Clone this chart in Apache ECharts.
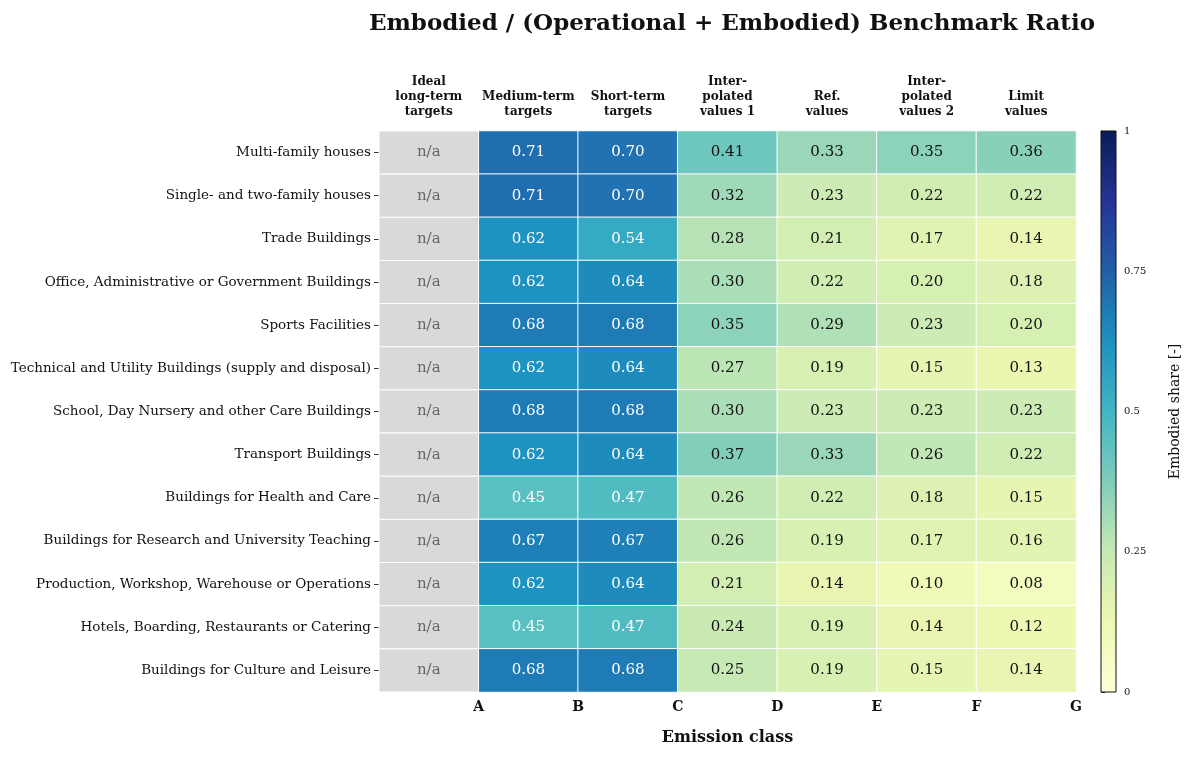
<!DOCTYPE html>
<html><head><meta charset="utf-8">
<script src="https://cdn.jsdelivr.net/npm/echarts@6/dist/echarts.min.js"></script>
<style>html,body{margin:0;background:#fff}#c{width:1200px;height:759px}</style>
</head><body><div id="c"></div>
<script>
var columns = ['Ideal\nlong-term\ntargets', 'Medium-term\ntargets', 'Short-term\ntargets', 'Inter-\npolated\nvalues 1', 'Ref.\nvalues', 'Inter-\npolated\nvalues 2', 'Limit\nvalues'];
var classes = ['', 'A', 'B', 'C', 'D', 'E', 'F', 'G'];
var buildings = ['Multi-family houses', 'Single- and two-family houses', 'Trade Buildings',
  'Office, Administrative or Government Buildings', 'Sports Facilities',
  'Technical and Utility Buildings (supply and disposal)', 'School, Day Nursery and other Care Buildings',
  'Transport Buildings', 'Buildings for Health and Care', 'Buildings for Research and University Teaching',
  'Production, Workshop, Warehouse or Operations', 'Hotels, Boarding, Restaurants or Catering',
  'Buildings for Culture and Leisure'];
// columns 2..7 (first column is n/a)
var mediumTerm = [0.71, 0.71, 0.62, 0.62, 0.68, 0.62, 0.68, 0.62, 0.45, 0.67, 0.62, 0.45, 0.68];
var shortTerm = [0.70, 0.70, 0.54, 0.64, 0.68, 0.64, 0.68, 0.64, 0.47, 0.67, 0.64, 0.47, 0.68];
var interp1 = [0.41, 0.32, 0.28, 0.30, 0.35, 0.27, 0.30, 0.37, 0.26, 0.26, 0.21, 0.24, 0.25];
var refValues = [0.33, 0.23, 0.21, 0.22, 0.29, 0.19, 0.23, 0.33, 0.22, 0.19, 0.14, 0.19, 0.19];
var interp2 = [0.35, 0.22, 0.17, 0.20, 0.23, 0.15, 0.23, 0.26, 0.18, 0.17, 0.10, 0.14, 0.15];
var limitValues = [0.36, 0.22, 0.14, 0.18, 0.20, 0.13, 0.23, 0.22, 0.15, 0.16, 0.08, 0.12, 0.14];
var ylgnbu = ['#ffffd9', '#edf8b1', '#c7e9b4', '#7fcdbb', '#41b6c4', '#1d91c0', '#225ea8', '#253494', '#081d58'];

var cols = [mediumTerm, shortTerm, interp1, refValues, interp2, limitValues];
var heat = [], na = [];
buildings.forEach(function (b, i) {
  na.push([0, i]);
  cols.forEach(function (arr, j) { heat.push([j + 1, i, arr[i]]); });
});
var font = 'DejaVu Serif';
var chart = echarts.init(document.getElementById('c'));
chart.setOption({
  textStyle: { fontFamily: font },
  title: { text: 'Embodied / (Operational + Embodied) Benchmark Ratio', left: 727, textAlign: 'center', top: 8,
    textStyle: { fontFamily: font, fontSize: 23, fontWeight: 'bold', color: '#111' } },
  grid: [{ left: 379, right: 124, top: 131, bottom: 67 }, { left: 1101, width: 15, top: 131, bottom: 67 }],
  xAxis: [
    { type: 'category', data: columns, position: 'top', gridIndex: 0,
      axisLine: { show: false }, axisTick: { show: false }, splitLine: { show: false },
      axisLabel: { interval: 0, fontFamily: font, fontSize: 12, fontWeight: 'bold', color: '#111', lineHeight: 15, margin: 12 } },
    { type: 'value', min: 0, max: 7, interval: 1, position: 'bottom', gridIndex: 0,
      name: 'Emission class', nameLocation: 'middle', nameGap: 38,
      nameTextStyle: { fontFamily: font, fontSize: 16, fontWeight: 'bold', color: '#111' },
      axisLine: { show: false }, splitLine: { show: false },
      axisTick: { show: false },
      axisLabel: { formatter: function (v) { return classes[v]; }, fontFamily: font, fontSize: 14, fontWeight: 'bold', color: '#111' } },
    { type: 'value', gridIndex: 1, show: false, min: 0, max: 1 }
  ],
  yAxis: [
    { type: 'category', data: buildings, inverse: true, gridIndex: 0,
      axisLine: { show: false }, splitLine: { show: false },
      axisTick: { show: true, length: 5, alignWithLabel: true, lineStyle: { color: '#333' } },
      axisLabel: { fontFamily: font, fontSize: 13.5, color: '#111', margin: 8 } },
    { type: 'value', gridIndex: 1, min: 0, max: 1, interval: 0.25, position: 'right',
      name: 'Embodied share [-]', nameLocation: 'middle', nameGap: 52, nameRotate: 90,
      nameTextStyle: { fontFamily: font, fontSize: 14, color: '#111' },
      axisLine: { show: true, lineStyle: { color: '#111' } }, splitLine: { show: false },
      axisTick: { show: true, length: 4, lineStyle: { color: '#333' } },
      axisLabel: { formatter: function (v) { return String(v); }, fontFamily: font, fontSize: 10, color: '#111' } }
  ],
  visualMap: { show: false, min: 0, max: 1, seriesIndex: 0, inRange: { color: ylgnbu } },
  graphic: [{ type: 'rect', shape: { x: 1101, y: 131, width: 15, height: 561 },
    style: { stroke: '#111', lineWidth: 1, fill: new echarts.graphic.LinearGradient(0, 1, 0, 0,
      ylgnbu.map(function (c, k) { return { offset: k / (ylgnbu.length - 1), color: c }; })) }, z: 10 }],
  series: [
    { type: 'heatmap', xAxisIndex: 0, yAxisIndex: 0,
      data: heat.map(function (d) { return { value: d, label: { color: d[2] >= 0.43 ? '#fff' : '#111' } }; }),
      itemStyle: { borderColor: '#fff', borderWidth: 1 },
      label: { show: true, fontFamily: font, fontSize: 15,
        formatter: function (p) { return p.value[2].toFixed(2); } } },
    { type: 'custom', xAxisIndex: 0, yAxisIndex: 0, data: na,
      renderItem: function (params, api) {
        var c = api.coord([api.value(0), api.value(1)]);
        var s = api.size([1, 1]);
        return { type: 'group', children: [
          { type: 'rect', shape: { x: c[0] - s[0] / 2, y: c[1] - s[1] / 2, width: s[0], height: s[1] },
            style: { fill: '#d9d9d9', stroke: '#fff', lineWidth: 1 } },
          { type: 'text', x: c[0], y: c[1], style: { text: 'n/a', fill: '#666', font: '15px "DejaVu Serif"', align: 'center', verticalAlign: 'middle' } }
        ] };
      } },
    { type: 'scatter', xAxisIndex: 2, yAxisIndex: 1, data: [] }
  ]
});
</script></body></html>
